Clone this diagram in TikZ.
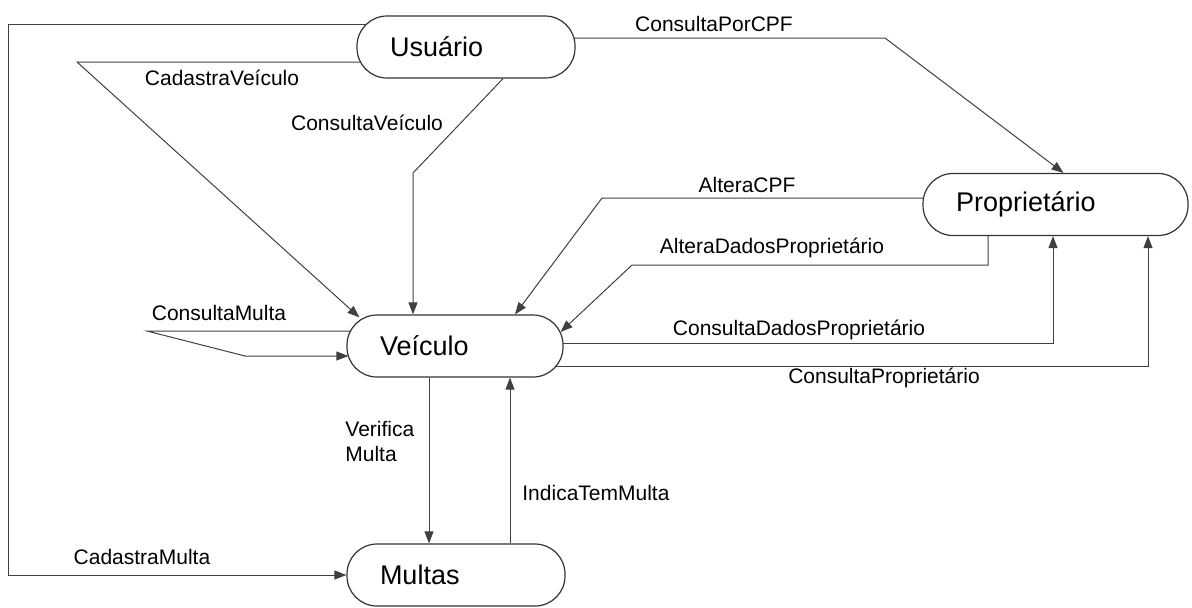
\documentclass[tikz,border=0pt]{standalone}
\usepackage{fontspec}
\setmainfont{Liberation Sans}
\usetikzlibrary{arrows.meta,calc,backgrounds}

\begin{document}
\begin{tikzpicture}[x=0.5pt,y=-0.5pt,
  proc/.style={draw=black!80, line width=0.6pt, fill=white,
    rounded corners=15pt, minimum height=31pt, inner xsep=16.5pt,
    inner ysep=0pt, text width=#1, align=left,
    font=\fontsize{13.5}{16}\selectfont},
  flow/.style={draw=black!75, line width=0.5pt,
    -{Triangle[length=6pt,width=4.5pt]}},
  lbl/.style={font=\fontsize{10.5}{12.5}\selectfont, inner sep=0pt}
]
\useasboundingbox (0,0) rectangle (1192,607);

% processes
\node[proc=76pt]   (usr)  at (466,47)     {Usuário};
\node[proc=75pt]   (veic) at (455,346)    {Veículo};
\node[proc=99.5pt] (prop) at (1055.5,204.5) {Proprietário};
\node[proc=76pt]   (mul)  at (456,575)    {Multas};

% flows, kept under the process boxes
\begin{pgfonlayer}{background}
  \draw[flow] (usr.center |- 0,24) -- (8,24) -- (8,0 |- mul.west) -- (mul.west);
  \draw[flow] (usr.center |- 0,62) -- (77,62) -- ($(veic.north west)+(13,3)$);
  \draw[flow] ($(usr.south)+(37,0)$) -- (413,173) -- (413,0 |- veic.north);
  \draw[flow] (usr.center |- 0,38) -- (885,38) -- ($(prop.north)+(8,0)$);
  \draw[flow] (prop.center |- 0,198) -- (602,198) -- ($(veic.north)+(60,0)$);
  \draw[flow] (988,0 |- prop.center) -- (988,265) -- (632,265) -- ($(veic.east)+(-3,-14)$);
  \draw[flow] (veic.center |- 0,343) -- (1053,343) -- (1053,0 |- prop.south);
  \draw[flow] (veic.center |- 0,366) -- (1148,366) -- (1148,0 |- prop.south);
  \draw[flow] (veic.center |- 0,331) -- (147,331) -- (245,356) -- ($(veic.west)+(2,10)$);
  \draw[flow] (429,0 |- veic.south) -- (429,0 |- mul.north);
  \draw[flow] (510,0 |- mul.north) -- (510,0 |- veic.south);
\end{pgfonlayer}

% flow labels
\node[lbl] (lCadVei)  at (222,78)  {CadastraVeículo};
\node[lbl] (lConVei)  at (367,123) {ConsultaVeículo};
\node[lbl] (lConCPF)  at (714,24)  {ConsultaPorCPF};
\node[lbl] (lAltCPF)  at (747,185) {AlteraCPF};
\node[lbl] (lAltDad)  at (772,248) {AlteraDadosProprietário};
\node[lbl] (lConDad)  at (799,330) {ConsultaDadosProprietário};
\node[lbl] (lConProp) at (884,378) {ConsultaProprietário};
\node[lbl] (lConMul)  at (219,313) {ConsultaMulta};
\node[lbl, anchor=west, align=left] (lVerMul) at (345,441) {Verifica\\Multa};
\node[lbl, anchor=west] (lIndMul) at (522,493) {IndicaTemMulta};
\node[lbl] (lCadMul)  at (142,557) {CadastraMulta};
\end{tikzpicture}
\end{document}
